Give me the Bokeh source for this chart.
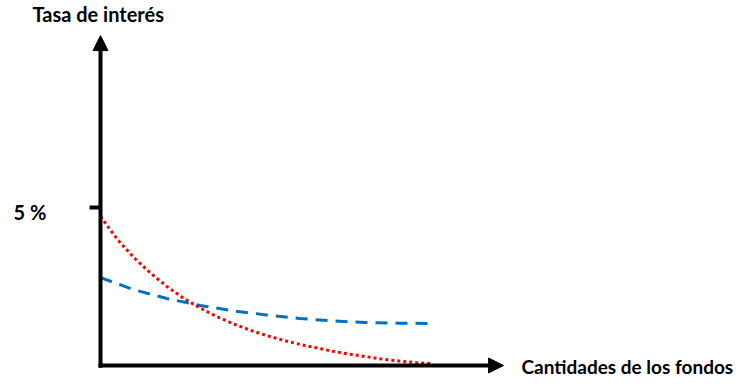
from bokeh.plotting import figure
from bokeh.models import Range1d, Arrow, NormalHead, Label
from bokeh.embed import file_html
from bokeh.resources import INLINE

# Data (quantity of funds vs. interest rate, abstract units)
qty_red = [0, 0.5, 1, 1.5, 2, 2.5, 3, 3.5, 4, 4.5, 5, 5.5, 6, 6.5, 7, 7.5, 8, 8.5, 9, 9.5, 10]
rate_red = [4.72, 4.0, 3.42, 2.93, 2.50, 2.13, 1.82, 1.55, 1.32, 1.12, 0.95, 0.80, 0.67, 0.56,
            0.45, 0.36, 0.28, 0.20, 0.14, 0.09, 0.06]
qty_blue = [0, 1, 2, 3, 4, 5, 6, 7, 8, 9, 10]
rate_blue = [2.78, 2.40, 2.12, 1.90, 1.73, 1.60, 1.49, 1.41, 1.36, 1.34, 1.33]
tick_value = 5
tick_label = "5 %"
y_title = "Tasa de interés"
x_title = "Cantidades de los fondos"

p = figure(width=742, height=379, output_backend="svg", toolbar_location=None,
           x_range=Range1d(-3.012, 19.337), y_range=Range1d(-0.443, 11.551),
           x_axis_type=None, y_axis_type=None, min_border=0)
p.grid.visible = False
p.outline_line_color = None

# axes as arrows
p.add_layout(Arrow(end=NormalHead(size=15, fill_color="black", line_color="black"),
                   x_start=0, y_start=-0.07, x_end=0, y_end=10.44,
                   line_width=4, line_color="black"))
p.add_layout(Arrow(end=NormalHead(size=15, fill_color="black", line_color="black"),
                   x_start=-0.06, y_start=0, x_end=12.14, y_end=0,
                   line_width=4, line_color="black"))
# tick at 5 %
p.segment(x0=[-0.33], y0=[tick_value], x1=[0], y1=[tick_value], line_width=4, line_color="black")

p.line(qty_blue, rate_blue, line_color="#0070C0", line_width=3, line_dash="12 8")
p.line(qty_red, rate_red, line_color="#FF0000", line_width=3, line_dash="3 3")

font = "Lato"
p.add_layout(Label(x=-2.05, y=11.11, text=y_title, text_font=font, text_font_style="bold",
                   text_font_size="20px", text_baseline="middle", text_align="left", text_color="black"))
p.add_layout(Label(x=12.68, y=-0.03, text=x_title, text_font=font, text_font_style="bold",
                   text_font_size="19px", text_baseline="middle", text_align="left", text_color="black"))
p.add_layout(Label(x=-2.62, y=4.87, text=tick_label, text_font=font, text_font_style="bold",
                   text_font_size="20px", text_baseline="middle", text_align="left", text_color="black"))

open("out.html", "w").write(file_html(p, INLINE))
